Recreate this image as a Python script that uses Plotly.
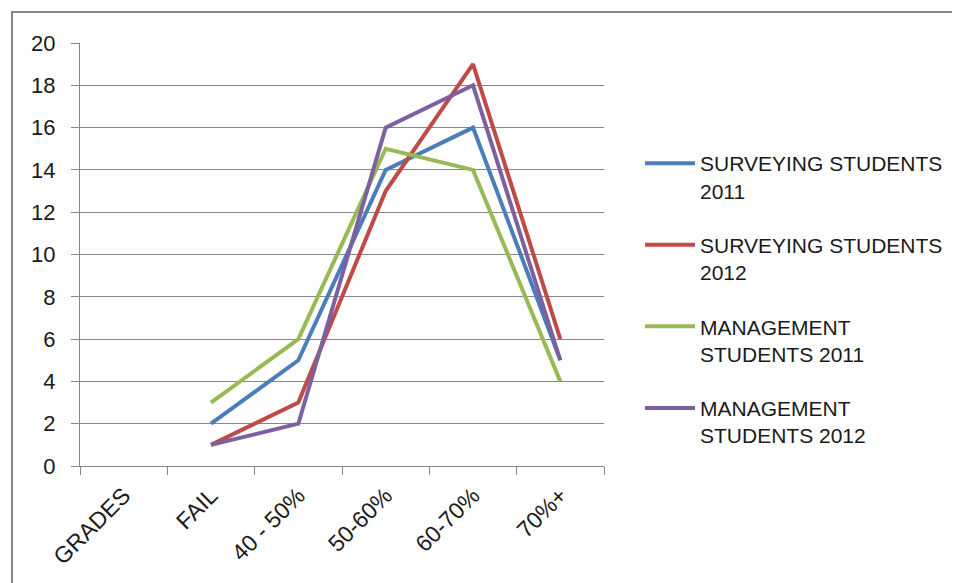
import plotly.graph_objects as go

categories = ["GRADES", "FAIL", "40 - 50%", "50-60%", "60-70%", "70%+"]
surveying_2011 = [None, 2, 5, 14, 16, 5]
surveying_2012 = [None, 1, 3, 13, 19, 6]
management_2011 = [None, 3, 6, 15, 14, 4]
management_2012 = [None, 1, 2, 16, 18, 5]

series = [
    ("SURVEYING STUDENTS<br>2011", surveying_2011, "#4A7EBB"),
    ("SURVEYING STUDENTS<br>2012", surveying_2012, "#BE4B48"),
    ("MANAGEMENT<br>STUDENTS 2011", management_2011, "#98B954"),
    ("MANAGEMENT<br>STUDENTS 2012", management_2012, "#7D60A0"),
]

fig = go.Figure()
for i, (name, vals, col) in enumerate(series):
    fig.add_trace(go.Scatter(
        x=categories, y=vals, mode="lines", name=name,
        line=dict(color=col, width=4), legendgroup=f"g{i}",
    ))

# page is offset by the 8px body margin
OFF = 8
W, H = 960, 583
L, R, T, B = 80 - OFF, 960 - (604 - OFF), 43 - OFF, 583 - (466 - OFF)
pw, ph = W - L - R, H - T - B

def px(x):
    return (x - OFF - L) / pw

def py(y):
    return (H - B - (y - OFF)) / ph

fig.update_layout(
    width=W, height=H,
    margin=dict(l=L, r=R, t=T, b=B),
    paper_bgcolor="white", plot_bgcolor="white",
    font=dict(family="Liberation Sans, Arial, sans-serif", color="#1a1a1a"),
    showlegend=True,
    legend=dict(
        x=px(640), y=py(143), xanchor="left", yanchor="top",
        font=dict(size=21, color="#1a1a1a"),
        traceorder="grouped", tracegroupgap=24, valign="top",
        itemwidth=50,
        bgcolor="rgba(0,0,0,0)",
    ),
    xaxis=dict(
        type="category", categoryorder="array", categoryarray=categories,
        range=[-0.5, 5.5], tickson="boundaries",
        ticks="outside", ticklen=8, tickcolor="#878787",
        showline=True, linecolor="#878787", linewidth=1,
        showgrid=False, tickangle=-45, ticklabelstandoff=6,
        tickfont=dict(size=23, color="#1a1a1a"),
    ),
    yaxis=dict(
        range=[0, 20], dtick=2, tick0=0,
        ticks="outside", ticklen=8, tickcolor="#878787",
        showline=True, linecolor="#878787", linewidth=1,
        showgrid=True, gridcolor="#878787", gridwidth=1,
        zeroline=False, ticklabelstandoff=11,
        tickfont=dict(size=22, color="#1a1a1a"),
    ),
    shapes=[dict(
        type="rect", xref="paper", yref="paper",
        x0=px(12), x1=px(980), y0=py(12), y1=py(600),
        line=dict(color="#868686", width=2), fillcolor="rgba(0,0,0,0)",
        layer="below",
    )],
)

fig.write_html("out.html")
